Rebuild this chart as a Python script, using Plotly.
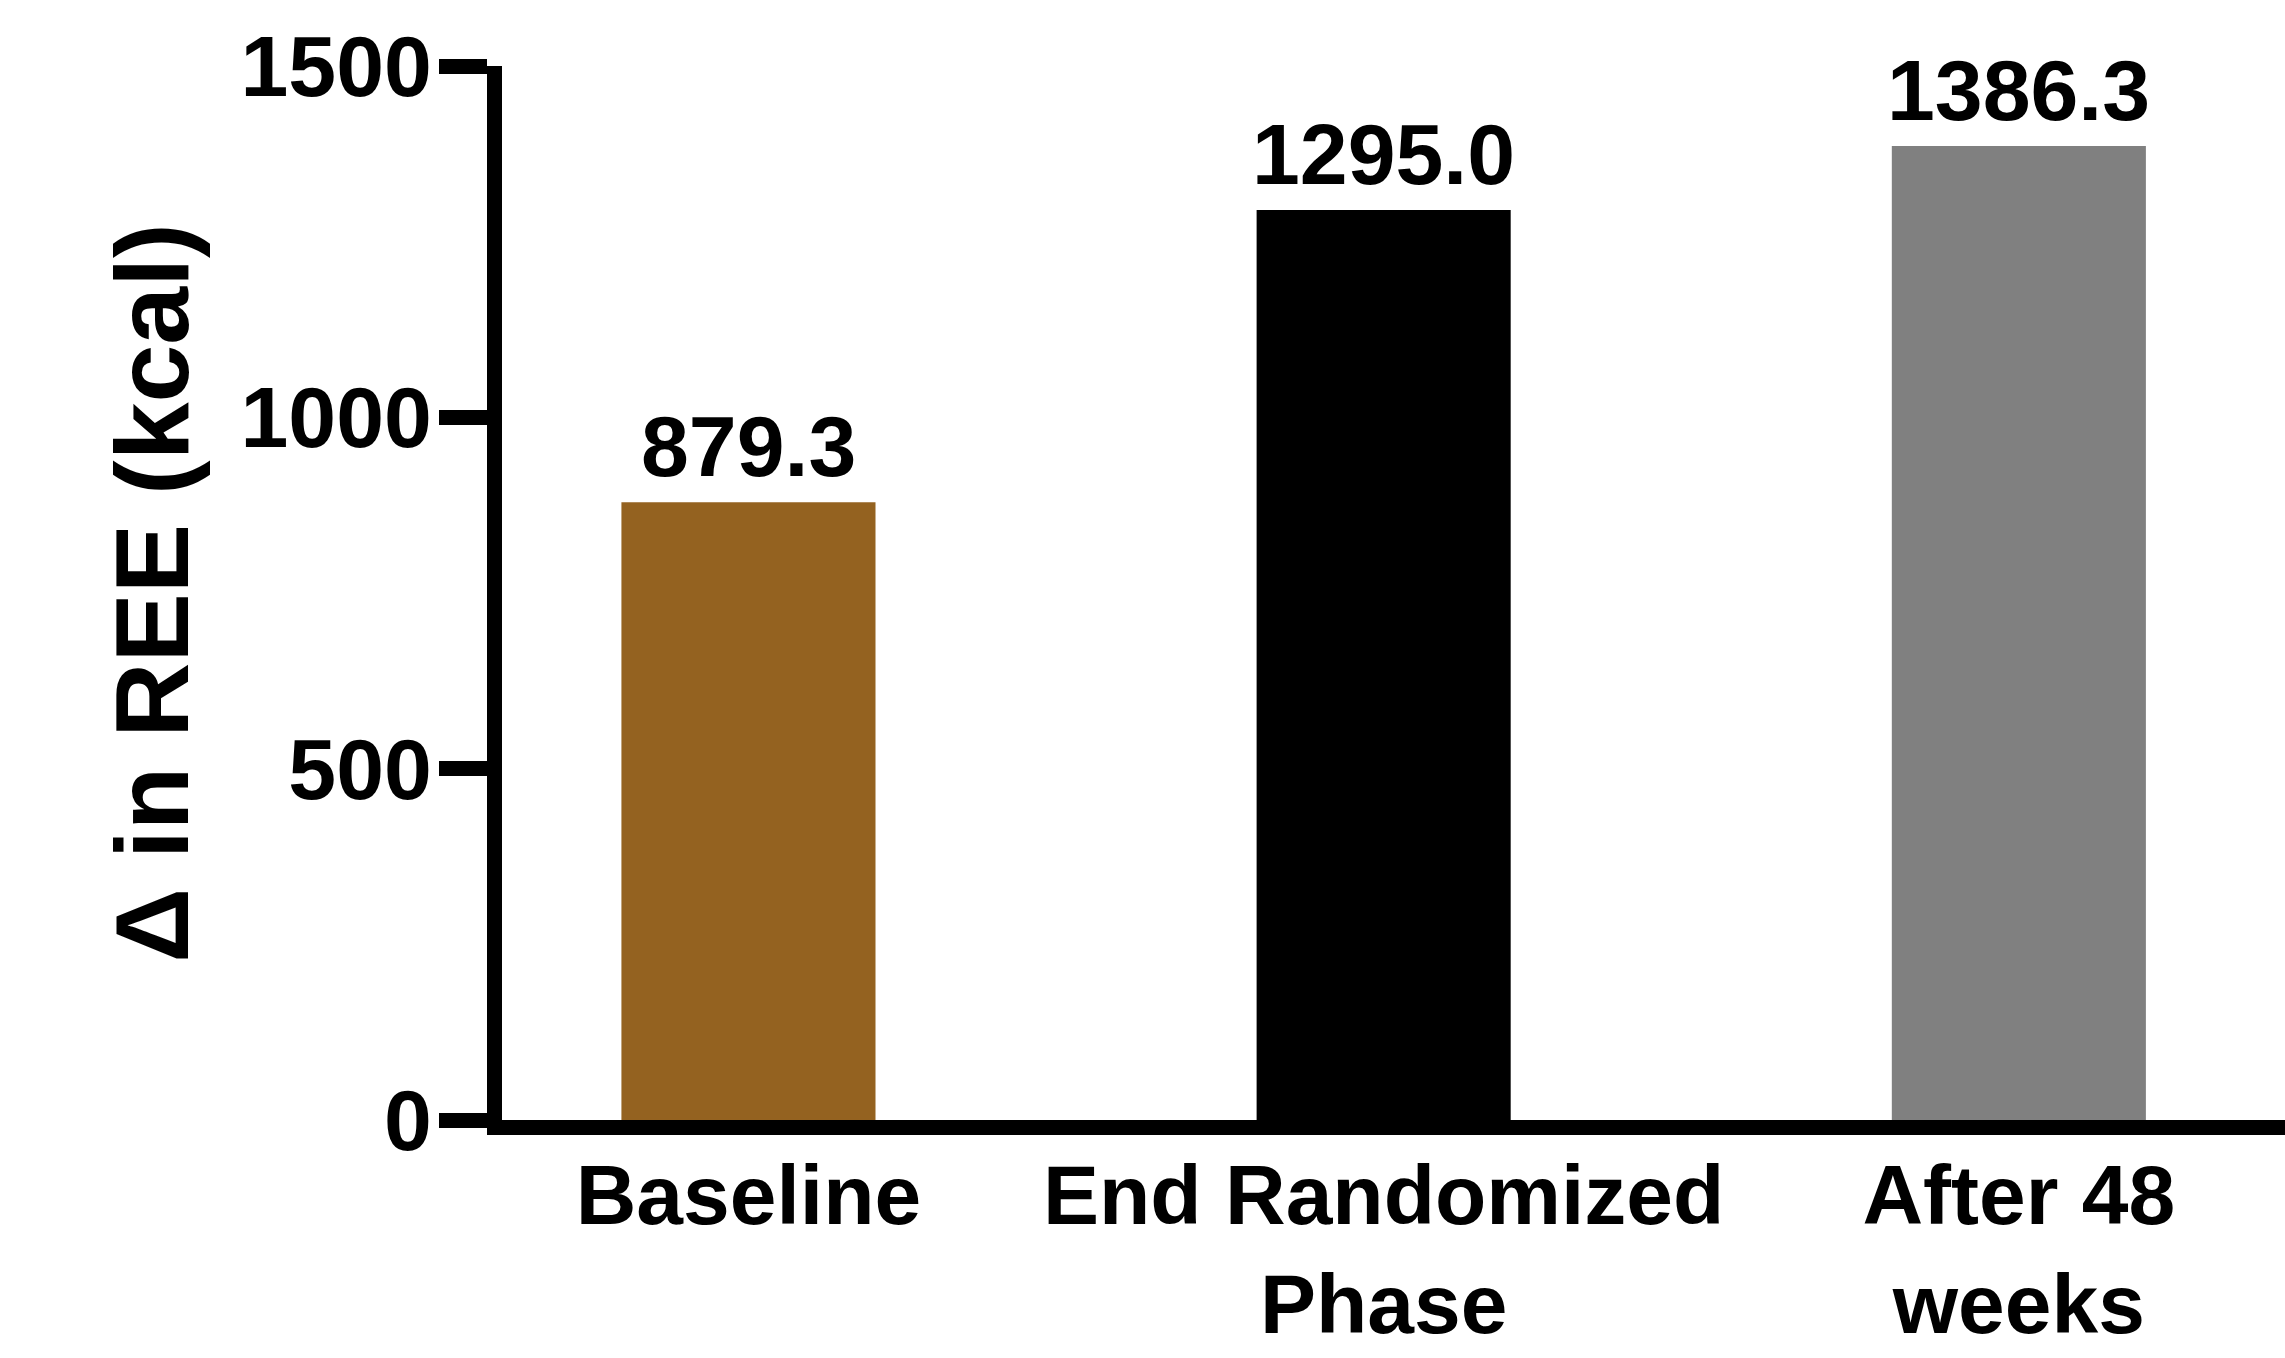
import plotly.graph_objects as go

categories = ["Baseline", "End Randomized<br>Phase", "After 48<br>weeks"]
values = [879.3, 1295.0, 1386.3]
labels = ["879.3", "1295.0", "1386.3"]
colors = ["#946220", "#000000", "#808080"]
y_ticks = [0, 500, 1000, 1500]

FONT = "Liberation Sans, Arial, sans-serif"
FS = 86

fig = go.Figure()
fig.add_trace(go.Bar(
    x=categories, y=values, marker=dict(color=colors, line=dict(width=0)),
    width=0.4, showlegend=False, hoverinfo="skip",
))

for c, v, t in zip(categories, values, labels):
    fig.add_annotation(x=c, y=v, text=t, showarrow=False, yanchor="bottom",
                       yshift=6, font=dict(family=FONT, size=FS, color="black", weight="bold"))

fig.update_layout(
    width=2285, height=1358,
    margin=dict(l=502, r=0, t=66, b=238),
    paper_bgcolor="white", plot_bgcolor="white",
    bargap=0.6,
    font=dict(family=FONT, size=FS, color="black", weight="bold"),
    xaxis=dict(
        range=[-0.388, 2.419], showline=True, linewidth=15, linecolor="black",
        ticks="", automargin=False, ticklabelstandoff=-12,
        tickfont=dict(family=FONT, size=84, color="black", weight="bold"),
        showgrid=False, zeroline=False,
    ),
    yaxis=dict(
        range=[0, 1500], tickvals=y_ticks, showline=True, linewidth=15, linecolor="black",
        ticks="outside", ticklen=48, tickwidth=15, tickcolor="black",
        ticklabelstandoff=-10, automargin=False,
        tickfont=dict(family=FONT, size=FS, color="black", weight="bold"),
        showgrid=False, zeroline=False,
        title=dict(text="Δ in REE (kcal)", standoff=24,
                   font=dict(family=FONT, size=104, color="black", weight="bold")),
    ),
)

fig.write_html("out.html")
